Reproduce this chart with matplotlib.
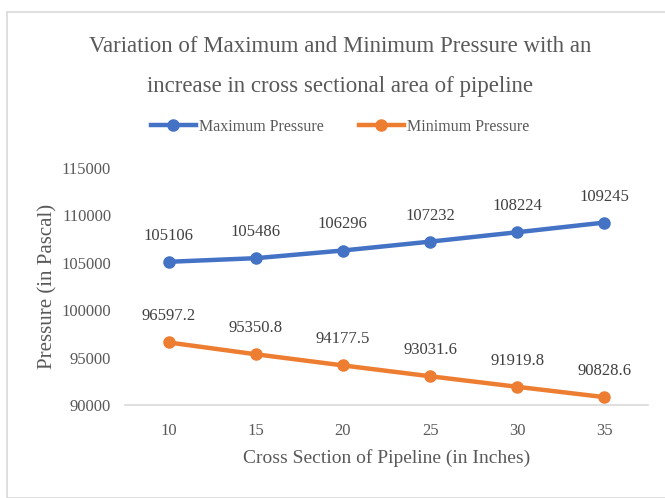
import matplotlib
matplotlib.use('Agg')
import matplotlib.pyplot as plt
from matplotlib.patches import Rectangle

sections = [10, 15, 20, 25, 30, 35]
max_pressure = [105106, 105486, 106296, 107232, 108224, 109245]
min_pressure = [96597.2, 95350.8, 94177.5, 93031.6, 91919.8, 90828.6]
max_labels = ['105106', '105486', '106296', '107232', '108224', '109245']
min_labels = ['96597.2', '95350.8', '94177.5', '93031.6', '91919.8', '90828.6']
title_lines = ['Variation of Maximum and Minimum Pressure with an',
               'increase in cross sectional area of pipeline']

plt.rcParams['font.family'] = ['Liberation Serif', 'DejaVu Serif']
TXT = '#595959'

fig = plt.figure(figsize=(6.65, 4.98), dpi=100)
fig.patches.append(Rectangle((7/665, 0), 1.0, 1 - 12/498, transform=fig.transFigure,
                             fill=False, edgecolor='#d9d9d9', linewidth=1.2))
ax = fig.add_axes([125/665, 1 - 405/498, 523/665, 237/498])

x = list(range(len(sections)))
ax.plot(x, max_pressure, color='#4472C4', linewidth=3.2, marker='o', markersize=8, label='Maximum Pressure')
ax.plot(x, min_pressure, color='#ED7D31', linewidth=3.2, marker='o', markersize=8, label='Minimum Pressure')

for i in x:
    ax.annotate(max_labels[i], (i, max_pressure[i]), xytext=(0, 13), textcoords='offset points',
                ha='center', va='bottom', fontsize=12, color='#404040')
    ax.annotate(min_labels[i], (i, min_pressure[i]), xytext=(0, 13), textcoords='offset points',
                ha='center', va='bottom', fontsize=12, color='#404040')

ax.set_xlim(-0.5, len(sections) - 0.5)
ax.set_ylim(90000, 115000)
ax.set_yticks(range(90000, 115001, 5000))
ax.set_xticks(x)
ax.set_xticklabels([str(s) for s in sections])
ax.tick_params(axis='both', length=0, labelsize=12, colors=TXT, pad=10)
ax.tick_params(axis='x', pad=13)
for s in ['top', 'right', 'left']:
    ax.spines[s].set_visible(False)
ax.spines['bottom'].set_color('#d9d9d9')
ax.spines['bottom'].set_linewidth(1.2)

ax.set_xlabel('Cross Section of Pipeline (in Inches)', fontsize=14, color=TXT, labelpad=7)
ax.set_ylabel('Pressure (in Pascal)', fontsize=15, color=TXT, labelpad=3)

fig.text(340/665, 1 - 46/498, title_lines[0], ha='center', va='center', fontsize=16.5, color=TXT)
fig.text(340/665, 1 - 86/498, title_lines[1], ha='center', va='center', fontsize=16.5, color=TXT)

ax.legend(loc='center', bbox_to_anchor=(340/665, 1 - 127/498), bbox_transform=fig.transFigure,
          ncol=2, frameon=False, fontsize=11.5, labelcolor=TXT, handlelength=2.8,
          handletextpad=0.2, columnspacing=2.2)

fig.savefig('out.png', dpi=100)
